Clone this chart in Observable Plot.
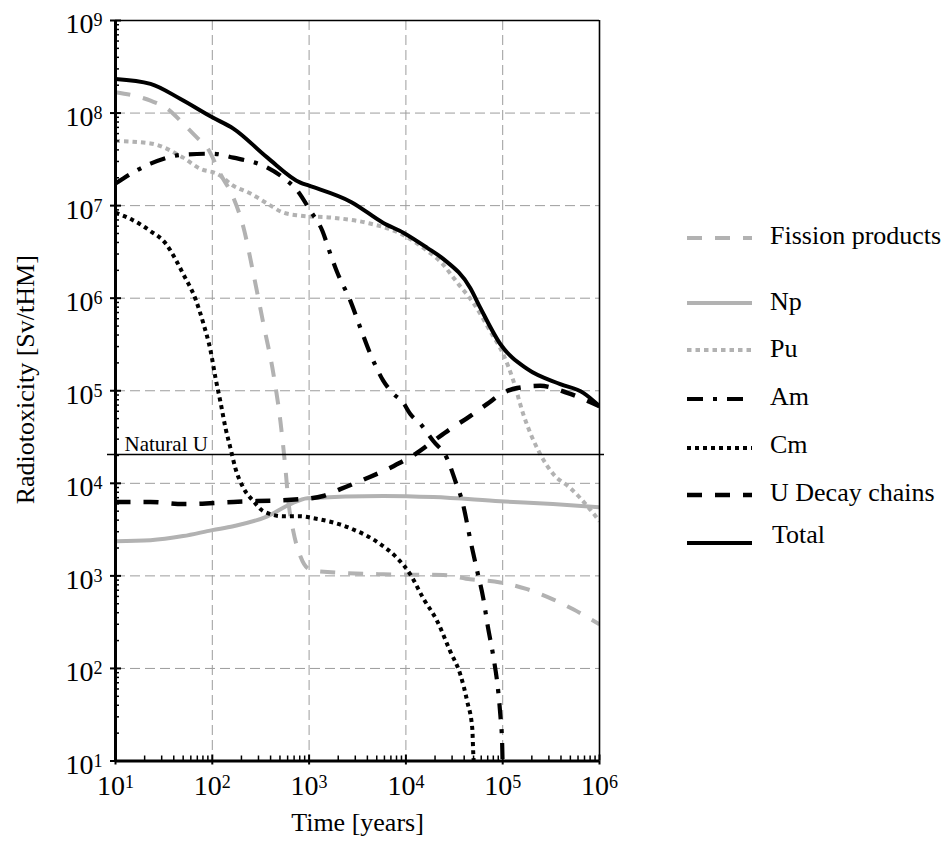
<!DOCTYPE html>
<html><head><meta charset="utf-8">
<script src="https://cdn.jsdelivr.net/npm/d3@7"></script>
<script src="https://cdn.jsdelivr.net/npm/@observablehq/plot@0.6"></script>
<style>
html,body{margin:0;padding:0;background:#fff;overflow:hidden}
#wrap{position:relative;width:946px;height:852px}
</style>
</head><body><div id="wrap"></div>
<script>
// ---- data: [time in years, radiotoxicity in Sv/tHM] ----
const fissionProducts = [[10,1.68e8],[23,1.36e8],[34,1.12e8],[50,7.7e7],[70,5.4e7],[89,4.2e7],[121,2.2e7],[165,1.22e7],[210,5.8e6],[266,1.83e6],[337,5.3e5],[428,1.52e5],[505,4.7e4],[569,1.46e4],[611,6.4e3],[688,3.0e3],[813,1.63e3],[1000,1.18e3],[1250,1.12e3],[5850,1.04e3],[24300,1.02e3],[46200,920],[94400,850],[1.79e5,718],[3.3e5,558],[5.35e5,435],[1e6,300]];
const np = [[10,2.37e3],[23,2.43e3],[50,2.69e3],[100,3.12e3],[165,3.44e3],[371,4.4e3],[641,5.96e3],[960,6.9e3],[5850,7.3e3],[19200,7.1e3],[94400,6.4e3],[3.3e5,5.96e3],[1e6,5.5e3]];
const pu = [[10,5.0e7],[23,4.7e7],[50,3.3e7],[75,2.5e7],[113,2.2e7],[165,1.64e7],[248,1.35e7],[371,1.05e7],[542,8.4e6],[813,7.8e6],[1780,7.4e6],[4000,6.5e6],[8750,5.0e6],[16600,3.25e6],[22600,2.5e6],[34000,1.47e6],[49700,8.9e5],[74400,4.4e5],[1.01e5,2.5e5],[1.29e5,1.28e5],[1.63e5,5.6e4],[2.44e5,2.07e4],[3.33e5,1.26e4],[4.98e5,8.9e3],[7.46e5,5.7e3],[1e6,3.9e3]];
const am = [[10,1.73e7],[14.3,2.2e7],[23,2.84e7],[50,3.55e7],[100,3.64e7],[165,3.3e7],[371,2.57e7],[542,2.0e7],[757,1.45e7],[1030,8.8e6],[1370,5.35e6],[1660,3.0e6],[1960,1.88e6],[2670,9.35e5],[3380,4.8e5],[4290,2.5e5],[5850,1.28e5],[7250,9.5e4],[9400,7.4e4],[11100,5.6e4],[14100,4.4e4],[19200,2.86e4],[26800,1.83e4],[32400,1.06e4],[38200,6.4e3],[47300,2.2e3],[54600,1.12e3],[63000,573],[70400,279],[80000,135],[90000,56],[94400,32],[98800,15],[1e5,8]];
const cm = [[10,8.4e6],[15,7.0e6],[23,5.3e6],[33,3.9e6],[42,2.6e6],[50,1.83e6],[67,9.8e5],[81,5.3e5],[96,2.7e5],[108,1.37e5],[121,7.7e4],[137,3.95e4],[154,2.4e4],[173,1.46e4],[210,8.9e3],[266,6.4e3],[337,5.0e3],[542,4.4e3],[813,4.4e3],[1110,4.2e3],[2670,3.27e3],[5450,2.2e3],[8150,1.55e3],[11100,1.04e3],[15100,573],[21100,323],[28700,153],[36500,86],[43000,44],[48500,22.5],[49700,11.8],[51000,8]];
const uDecay = [[10,6.3e3],[23,6.3e3],[50,5.96e3],[165,6.3e3],[813,6.75e3],[1400,7.3e3],[2100,8.65e3],[4000,1.14e4],[7420,1.53e4],[12500,2.07e4],[19200,2.86e4],[28700,3.86e4],[43000,5.07e4],[69300,7.2e4],[1.01e5,9.5e4],[1.41e5,1.07e5],[2.44e5,1.13e5],[4.64e5,9.5e4],[1e6,6.8e4]];
const total = [[10,2.34e8],[23,2.07e8],[47,1.42e8],[100,9.0e7],[165,6.8e7],[371,3.3e7],[813,1.77e7],[1000,1.64e7],[2740,1.09e7],[5850,6.5e6],[9400,5.1e6],[16600,3.5e6],[24300,2.66e6],[46200,1.29e6],[58600,7.9e5],[94400,3.2e5],[1.79e5,1.72e5],[3.93e5,1.18e5],[6.8e5,9.5e4],[1e6,6.8e4]];
const naturalU = 20500;
const seriesNames = ["Fission products","Np","Pu","Am","Cm","U Decay chains","Total"];
const xTicks = [1e1,1e2,1e3,1e4,1e5,1e6];
const yTicks = [1e1,1e2,1e3,1e4,1e5,1e6,1e7,1e8,1e9];
const xLabel = "Time [years]";
const yLabel = "Radiotoxicity [Sv/tHM]";
const naturalULabel = "Natural U";

// ---- styles ----
const GRAY = "#b2b2b2";
const FONT = '"Liberation Serif","Times New Roman",Times,serif';
const styles = [
  {data: fissionProducts, stroke: GRAY, dash: "15,13", width: 4},
  {data: np, stroke: GRAY, dash: null, width: 4},
  {data: pu, stroke: GRAY, dash: "4.5,4", width: 4},
  {data: am, stroke: "#000", dash: "16,10,4,10", width: 4.2},
  {data: cm, stroke: "#000", dash: "4,4", width: 4},
  {data: uDecay, stroke: "#000", dash: "15,13", width: 4.5},
  {data: total, stroke: "#000", dash: null, width: 4}
];
const drawOrder = [1, 2, 0, 5, 4, 3, 6];

const minorX = d3.range(1, 6).flatMap(e => d3.range(2, 10).map(m => m * 10 ** e));
const minorY = d3.range(1, 9).flatMap(e => d3.range(2, 10).map(m => m * 10 ** e));
const fmt = d => `10^${Math.round(Math.log10(d))}`;
const blank = () => "";

const lineMarks = drawOrder.map(i => {
  const s = styles[i];
  return Plot.line(s.data, {
    x: d => d[0], y: d => d[1], stroke: s.stroke, strokeWidth: s.width,
    strokeDasharray: s.dash, strokeLinecap: "butt", strokeLinejoin: "round",
    curve: "monotone-x", clip: true
  });
});

const chart = Plot.plot({
  width: 946, height: 852,
  marginLeft: 115, marginRight: 347, marginTop: 20, marginBottom: 91.5,
  x: {type: "log", domain: [1e1, 1e6]},
  y: {type: "log", domain: [1e1, 1e9]},
  style: {fontFamily: FONT, fontSize: "26px", color: "#000", background: "transparent", overflow: "visible"},
  marks: [
    Plot.gridX(xTicks.slice(1, -1), {stroke: "#9c9c9c", strokeOpacity: 1, strokeWidth: 1, strokeDasharray: "10,5"}),
    Plot.gridY(yTicks.slice(1, -1), {stroke: "#9c9c9c", strokeOpacity: 1, strokeWidth: 1, strokeDasharray: "10,5"}),
    ...lineMarks,
    Plot.ruleY([naturalU], {stroke: "#000", strokeWidth: 1.6, insetLeft: -8, insetRight: -5}),
    Plot.text([naturalU], {y: d => d, frameAnchor: "left", text: () => naturalULabel, textAnchor: "start", lineAnchor: "bottom", dx: 9, dy: -3, fontSize: 21}),
    Plot.ruleX([1e6], {stroke: "#000", strokeWidth: 1.6}),
    Plot.ruleY([1e9], {stroke: "#000", strokeWidth: 1.6}),
    Plot.ruleX([1e1], {stroke: "#000", strokeWidth: 3}),
    Plot.ruleY([1e1], {stroke: "#000", strokeWidth: 3}),
    Plot.axisX(xTicks, {anchor: "bottom", tickSize: 4, tickPadding: 10, fontSize: 28, tickFormat: fmt, label: null, strokeWidth: 2}),
    Plot.axisX(xTicks, {anchor: "bottom", tickSize: -6, tickFormat: blank, label: null, strokeWidth: 2}),
    Plot.axisX(minorX, {anchor: "bottom", tickSize: -5, tickFormat: blank, label: null, strokeWidth: 1.5}),
    Plot.axisY(yTicks, {anchor: "left", tickSize: 5, tickPadding: 8, fontSize: 28, tickFormat: fmt, label: null, strokeWidth: 2}),
    Plot.axisY(yTicks, {anchor: "left", tickSize: -6, tickFormat: blank, label: null, strokeWidth: 2}),
    Plot.axisY(minorY, {anchor: "left", tickSize: -4, tickFormat: blank, label: null, strokeWidth: 1.5}),
    Plot.text([xLabel], {frameAnchor: "bottom", textAnchor: "middle", lineAnchor: "middle", dy: 62, fontSize: 26}),
    Plot.text([yLabel], {frameAnchor: "left", textAnchor: "middle", lineAnchor: "middle", rotate: -90, dx: -90, dy: -11, fontSize: 26})
  ]
});

// superscript exponents in tick labels
const NS = "http://www.w3.org/2000/svg";
chart.querySelectorAll('g[aria-label$="tick label"] text').forEach(t => {
  const m = /^10\^(\d+)$/.exec(t.textContent);
  if (!m) return;
  t.textContent = "";
  const a = document.createElementNS(NS, "tspan"); a.textContent = "10";
  const b = document.createElementNS(NS, "tspan"); b.textContent = m[1];
  b.setAttribute("font-size", "18"); b.setAttribute("dy", "-7");
  t.append(a, b);
});
chart.querySelectorAll('g[aria-label="y-axis tick label"] text').forEach(t => t.setAttribute("dy", "4"));

const wrap = document.getElementById("wrap");
wrap.appendChild(chart);

// legend overlay
const legendLineY = [238, 303, 350, 399, 448, 495, 543];
const legendTextY = [244, 310, 357, 405, 453, 501, 543];
const leg = d3.create("svg").attr("width", 946).attr("height", 852)
  .style("position", "absolute").style("left", "0").style("top", "0")
  .style("font-family", FONT).style("font-size", "26px");
seriesNames.forEach((name, i) => {
  const s = styles[i];
  leg.append("line").attr("x1", 687).attr("x2", 752).attr("y1", legendLineY[i]).attr("y2", legendLineY[i])
    .attr("stroke", s.stroke).attr("stroke-width", s.width).attr("stroke-dasharray", s.dash);
  leg.append("text").attr("x", i === 6 ? 772 : 770).attr("y", legendTextY[i]).attr("fill", "#000").text(name);
});
wrap.appendChild(leg.node());
</script></body></html>
